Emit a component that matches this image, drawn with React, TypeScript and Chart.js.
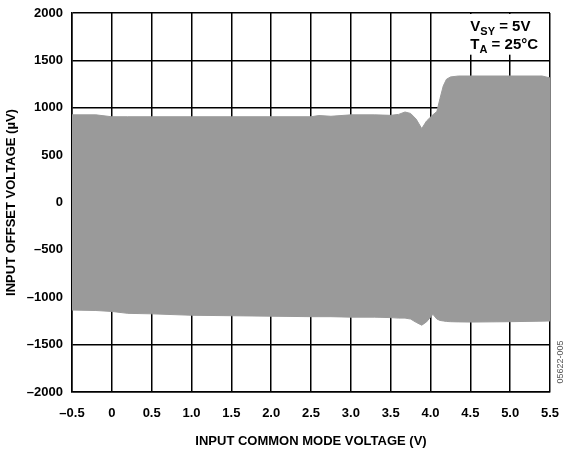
import React, { useEffect, useRef } from 'react';
import { Chart, registerables } from 'chart.js';

Chart.register(...registerables);

// Input common-mode voltage (V)
const xValues = [-0.5, -0.2, 0, 0.2, 0.5, 1.0, 1.5, 2.0, 2.5, 2.6, 2.75, 3.0, 3.3, 3.5, 3.6, 3.68, 3.75, 3.82, 3.89, 3.95, 4.03, 4.08, 4.12, 4.16, 4.2, 4.25, 4.35, 4.5, 5.0, 5.4, 5.5];
// Upper envelope of input offset voltage (µV)
const upperValues = [925, 925, 905, 905, 905, 905, 905, 905, 905, 918, 910, 925, 925, 920, 930, 955, 940, 880, 780, 860, 925, 960, 1100, 1230, 1300, 1325, 1335, 1335, 1335, 1335, 1315];
// Lower envelope of input offset voltage (µV)
const lowerValues = [-1135, -1140, -1150, -1170, -1175, -1190, -1195, -1200, -1205, -1205, -1205, -1210, -1210, -1215, -1220, -1220, -1230, -1265, -1295, -1260, -1180, -1230, -1245, -1250, -1255, -1258, -1260, -1262, -1258, -1252, -1250];

const xTickLabels = ['–0.5', '0', '0.5', '1.0', '1.5', '2.0', '2.5', '3.0', '3.5', '4.0', '4.5', '5.0', '5.5'];
const yTickLabels = ['–2000', '–1500', '–1000', '–500', '0', '500', '1000', '1500', '2000'];

const FONT = '"Liberation Sans", Arial, Helvetica, sans-serif';

const annotationPlugin = {
  id: 'annotations',
  afterDraw(chart: any) {
    const { ctx, chartArea, scales } = chart;
    const xs = scales.x;
    const ys = scales.y;
    ctx.save();
    // legend box
    const left = xs.getPixelForValue(4.4);
    const bottom = ys.getPixelForValue(1560);
    ctx.fillStyle = '#ffffff';
    ctx.fillRect(left, chartArea.top + 1, chartArea.right - 1 - left, bottom - chartArea.top - 1);

    const tx = xs.getPixelForValue(4.5);
    ctx.fillStyle = '#000';
    ctx.textBaseline = 'alphabetic';
    ctx.textAlign = 'left';
    const big = `bold 15px ${FONT}`;
    const small = `bold 11px ${FONT}`;
    const drawLine = (parts: [string, boolean][], baseY: number) => {
      let cx = tx;
      for (const [t, sub] of parts) {
        ctx.font = sub ? small : big;
        ctx.fillText(t, cx, sub ? baseY + 4 : baseY);
        cx += ctx.measureText(t).width;
      }
    };
    drawLine([['V', false], ['SY', true], [' = 5V', false]], 31);
    drawLine([['T', false], ['A', true], [' = 25°C', false]], 49);

    // figure code
    ctx.translate(561, 362);
    ctx.rotate(-Math.PI / 2);
    ctx.font = `9px ${FONT}`;
    ctx.fillStyle = '#555';
    ctx.textAlign = 'center';
    ctx.textBaseline = 'middle';
    ctx.fillText('05622-005', 0, 0);
    ctx.restore();
  },
};

export default function App() {
  const ref = useRef<HTMLCanvasElement | null>(null);

  useEffect(() => {
    if (!ref.current) return;
    const chart = new Chart(ref.current, {
      type: 'line',
      data: {
        datasets: [
          {
            data: xValues.map((x, i) => ({ x, y: upperValues[i] })),
            fill: '+1',
            backgroundColor: '#9a9a9a',
            borderColor: '#9a9a9a',
            borderWidth: 1,
            pointRadius: 0,
            tension: 0,
          },
          {
            data: xValues.map((x, i) => ({ x, y: lowerValues[i] })),
            fill: false,
            borderColor: '#9a9a9a',
            borderWidth: 1,
            pointRadius: 0,
            tension: 0,
          },
        ],
      },
      options: {
        responsive: false,
        animation: false,
        layout: { padding: { left: 0, top: 13, right: 18, bottom: 0 } },
        plugins: { legend: { display: false }, tooltip: { enabled: false } },
        scales: {
          x: {
            type: 'linear',
            min: -0.5,
            max: 5.5,
            z: 1,
            afterFit: (s: any) => { s.height = 58; s.paddingLeft = 0; s.paddingRight = 0; },
            ticks: {
              stepSize: 0.5,
              padding: 14,
              color: '#000',
              font: { family: FONT, size: 13, weight: 'bold' },
              callback: (_v: any, i: number) => xTickLabels[i],
              maxRotation: 0,
              autoSkip: false,
            },
            grid: { color: '#000', lineWidth: 1.5, drawTicks: false },
            border: { color: '#000', width: 1.5 },
            title: {
              display: true,
              text: 'INPUT COMMON MODE VOLTAGE (V)',
              color: '#000',
              font: { family: FONT, size: 13, weight: 'bold' },
              padding: { top: 4, bottom: 1 },
            },
          },
          y: {
            type: 'linear',
            min: -2000,
            max: 2000,
            z: 1,
            afterFit: (s: any) => { s.width = 72; s.paddingTop = 0; s.paddingBottom = 0; },
            ticks: {
              stepSize: 500,
              padding: 9,
              color: '#000',
              font: { family: FONT, size: 13, weight: 'bold' },
              callback: (_v: any, i: number) => yTickLabels[i],
              autoSkip: false,
            },
            grid: { color: '#000', lineWidth: 1.5, drawTicks: false },
            border: { color: '#000', width: 1.5 },
            title: {
              display: true,
              text: 'INPUT OFFSET VOLTAGE (µV)',
              color: '#000',
              font: { family: FONT, size: 13, weight: 'bold' },
              padding: { top: 4, bottom: 4 },
            },
          },
        },
      },
      plugins: [annotationPlugin],
    });
    return () => chart.destroy();
  }, []);

  return (
    <div style={{ position: 'absolute', left: 0, top: 0, width: 568, height: 450, background: '#fff' }}>
      <canvas ref={ref} width={568} height={450} />
    </div>
  );
}
